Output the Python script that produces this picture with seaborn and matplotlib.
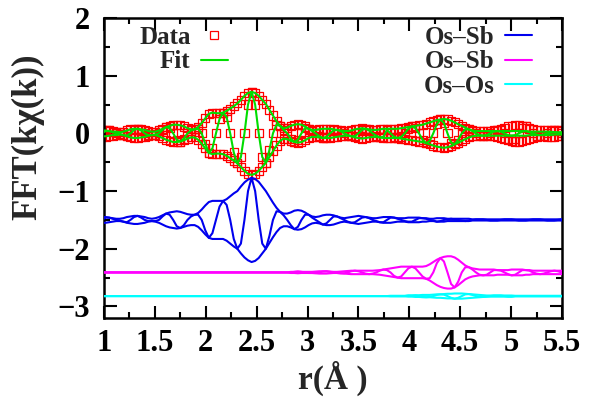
import numpy as np
import pandas as pd
import matplotlib
matplotlib.use("Agg")
import matplotlib.pyplot as plt
from matplotlib.lines import Line2D
from matplotlib.ticker import MultipleLocator, FuncFormatter
import seaborn as sns

# r grid (Angstrom), same sampling for every curve
r = [0.980, 1.015, 1.050, 1.085, 1.120, 1.155, 1.190, 1.225,
     1.260, 1.295, 1.330, 1.365, 1.400, 1.435, 1.470, 1.505,
     1.540, 1.575, 1.610, 1.645, 1.680, 1.715, 1.750, 1.785,
     1.820, 1.855, 1.890, 1.925, 1.960, 1.995, 2.030, 2.065,
     2.100, 2.135, 2.170, 2.205, 2.240, 2.275, 2.310, 2.345,
     2.380, 2.415, 2.450, 2.485, 2.520, 2.555, 2.590, 2.625,
     2.660, 2.695, 2.730, 2.765, 2.800, 2.835, 2.870, 2.905,
     2.940, 2.975, 3.010, 3.045, 3.080, 3.115, 3.150, 3.185,
     3.220, 3.255, 3.290, 3.325, 3.360, 3.395, 3.430, 3.465,
     3.500, 3.535, 3.570, 3.605, 3.640, 3.675, 3.710, 3.745,
     3.780, 3.815, 3.850, 3.885, 3.920, 3.955, 3.990, 4.025,
     4.060, 4.095, 4.130, 4.165, 4.200, 4.235, 4.270, 4.305,
     4.340, 4.375, 4.410, 4.445, 4.480, 4.515, 4.550, 4.585,
     4.620, 4.655, 4.690, 4.725, 4.760, 4.795, 4.830, 4.865,
     4.900, 4.935, 4.970, 5.005, 5.040, 5.075, 5.110, 5.145,
     5.180, 5.215, 5.250, 5.285, 5.320, 5.355, 5.390, 5.425,
     5.460, 5.495, 5.530]

# measured data: magnitude and real part
data_mag = [.06, .06, .05, .04, .03, .02, .03, .05,
            .07, .08, .08, .07, .06, .04, .03, .03,
            .05, .08, .11, .13, .15, .15, .14, .12,
            .09, .07, .07, .11, .18, .26, .34, .36,
            .35, .35, .36, .39, .43, .47, .52, .58,
            .65, .70, .72, .70, .65, .58, .51, .41,
            .31, .21, .13, .09, .10, .13, .15, .16,
            .15, .12, .08, .06, .06, .07, .08, .08,
            .08, .07, .06, .05, .04, .04, .05, .07,
            .08, .09, .08, .07, .06, .06, .07, .08,
            .08, .08, .08, .08, .09, .10, .11, .12,
            .13, .14, .15, .17, .19, .21, .23, .24,
            .25, .24, .22, .19, .16, .13, .10, .07,
            .05, .04, .04, .04, .04, .04, .05, .06,
            .08, .10, .12, .13, .14, .14, .13, .12,
            .10, .08, .06, .05, .05, .06, .06, .06,
            .05, .05, .05]
data_re = [0, .04, .05, .03, 0, -.01, -.03, -.04,
           0, .06, .08, .05, 0, -.03, -.03, -.02,
           0, .06, .11, .09, 0, -.11, -.14, -.09,
           0, .05, .07, .08, 0, -.18, -.34, -.26,
           0, .25, .36, .28, 0, -.33, -.52, -.41,
           0, .50, .72, .50, 0, -.41, -.51, -.29,
           0, .15, .13, .06, 0, -.09, -.15, -.11,
           0, .09, .08, .04, 0, -.05, -.08, -.06,
           0, .05, .06, .04, 0, -.03, -.05, -.05,
           0, .06, .08, .05, 0, -.04, -.07, -.06,
           .06, 0, -.06, -.08, -.06, 0, .08, .12,
           .09, 0, -.11, -.17, -.13, 0, .16, .24,
           .18, 0, -.16, -.19, -.11, 0, .07, .07,
           .04, 0, -.03, -.04, -.03, 0, .04, .06,
           .06, 0, -.09, -.13, -.10, 0, .09, .12,
           .07, 0, -.04, -.05, -.04, 0, .04, .06,
           .04, 0, -.04]

# fit
fit_mag = [.05, .05, .04, .03, .03, .02, .03, .05,
           .07, .08, .08, .07, .06, .04, .03, .03,
           .05, .08, .11, .13, .15, .15, .14, .12,
           .09, .07, .07, .11, .18, .26, .34, .36,
           .35, .35, .36, .39, .43, .47, .52, .58,
           .65, .70, .72, .70, .65, .58, .51, .41,
           .31, .21, .13, .09, .10, .13, .15, .16,
           .15, .12, .08, .06, .06, .07, .08, .08,
           .08, .07, .06, .05, .04, .04, .05, .07,
           .08, .09, .08, .07, .06, .06, .07, .08,
           .08, .08, .08, .08, .09, .10, .11, .12,
           .13, .14, .15, .17, .19, .21, .23, .24,
           .25, .24, .22, .19, .16, .13, .10, .07,
           .05, .04, .04, .04, .04, .04, .04, .04,
           .04, .04, .04, .04, .04, .04, .04, .04,
           .03, .03, .03, .03, .03, .03, .03, .02,
           .02, .02, .02]
fit_re = [0, .04, .04, .02, 0, -.01, -.03, -.04,
          0, .06, .08, .05, 0, -.03, -.03, -.02,
          0, .06, .11, .09, 0, -.11, -.14, -.09,
          0, .05, .07, .08, 0, -.18, -.34, -.26,
          0, .25, .36, .28, 0, -.33, -.52, -.41,
          0, .50, .72, .50, 0, -.41, -.51, -.29,
          0, .15, .13, .06, 0, -.09, -.15, -.11,
          0, .09, .08, .04, 0, -.05, -.08, -.06,
          0, .05, .06, .04, 0, -.03, -.05, -.05,
          0, .06, .08, .05, 0, -.04, -.07, -.06,
          .06, 0, -.06, -.08, -.06, 0, .08, .12,
          .09, 0, -.11, -.17, -.13, 0, .16, .24,
          .18, 0, -.16, -.19, -.11, 0, .07, .07,
          .04, 0, -.03, -.04, -.03, 0, .03, .04,
          .03, 0, -.03, -.04, -.03, 0, .03, .04,
          .02, 0, -.02, -.03, -.02, 0, .01, .02,
          .01, 0, -.01]

# first Os-Sb shell (blue)
sb1_shift = -1.5
sb1_mag = [.05, .05, .04, .03, .02, .02, .03, .05,
           .06, .07, .07, .06, .05, .03, .02, .03,
           .05, .08, .11, .13, .14, .15, .14, .12,
           .10, .09, .09, .12, .18, .25, .31, .33,
           .33, .33, .33, .36, .41, .46, .50, .58,
           .65, .70, .73, .71, .66, .58, .50, .40,
           .30, .21, .14, .11, .11, .13, .16, .17,
           .16, .13, .09, .06, .05, .06, .08, .09,
           .09, .08, .06, .04, .03, .04, .05, .06,
           .07, .06, .05, .04, .03, .03, .04, .05,
           .05, .05, .04, .03, .03, .03, .04, .04,
           .04, .04, .03, .03, .02, .02, .03, .03,
           .03, .02, .02, .02, .02, .02, .02, .02,
           .01, .01, .01, .01, .01, .01, .01, .01,
           .01, .01, .01, .01, .01, .01, .01, .01,
           .01, .01, .01, .01, .01, .01, .01, .01,
           .01, .01, .01]
sb1_re = [0, .04, .04, .02, 0, -.01, -.03, -.04,
          0, .05, .07, .04, 0, -.02, -.02, -.02,
          0, .06, .11, .09, 0, -.11, -.14, -.09,
          0, .06, .09, .09, 0, -.18, -.31, -.23,
          0, .23, .33, .26, 0, -.33, -.50, -.41,
          0, .50, .73, .50, 0, -.41, -.50, -.28,
          0, .15, .14, .08, 0, -.09, -.16, -.12,
          0, .09, .09, .04, 0, -.04, -.08, -.06,
          0, .06, .06, .03, 0, -.03, -.05, -.04,
          0, .04, .05, .03, 0, -.02, -.04, -.04,
          0, .04, .04, .02, 0, -.02, -.03, -.03,
          0, .03, .03, .02, 0, -.01, -.03, -.02,
          0, .01, .02, .01, 0, -.01, -.02, -.01,
          0, .01, .01, .01, 0, -.01, -.01, -.01,
          0, .01, .01, .01, 0, -.01, -.01, -.01,
          0, .01, .01, .01, 0, -.01, -.01, -.01,
          0, .01, .01]

# second Os-Sb shell (magenta)
sb2_shift = -2.41
sb2_mag = [0.0] * 53 + [.01, .01, .015,
           .01, .01, .01, .01, .015, .02, .02, .02,
           .015, .01, .01, .015, .02, .025, .03, .03,
           .03, .03, .03, .03, .03, .035, .04, .05,
           .06, .07, .08, .09, .10, .10, .10, .10,
           .10, .10, .10, .11, .14, .18, .22, .25,
           .27, .28, .28, .26, .22, .17, .12, .09,
           .07, .06, .05, .05, .05, .05, .05, .04,
           .04, .04, .04, .05, .05, .05, .05, .04,
           .04, .03, .03, .03, .03, .03, .03, .03,
           .03, .03, .03]
sb2_re = [0.0] * 54 + [.01, .015,
          .01, 0, -.01, -.01, -.01, 0, .015, .02,
          .01, 0, -.01, -.015, -.015, 0, .02, .03,
          .02, 0, -.02, -.03, -.02, 0, .03, .05,
          .04, 0, -.06, -.09, -.07, 0, .07, .10,
          .07, 0, -.07, -.11, -.10, 0, .16, .25,
          .19, 0, -.20, -.26, -.16, 0, .09, .09,
          .05, 0, -.04, -.05, -.04, 0, .04, .04,
          .03, 0, -.03, -.05, -.04, 0, .04, .04,
          .03, 0, -.02, -.03, -.02, 0, .02, .03,
          .02, 0, -.02]

# Os-Os shell (cyan)
os_shift = -2.82
os_mag = [0.0] * 81 + [.005, .005, .005, .005, .005, .01, .01,
          .015, .015, .02, .02, .02, .025, .03, .03,
          .035, .04, .04, .045, .045, .045, .04, .035,
          .03, .025, .02, .015, .01, .01, .01, .01,
          .01, .01, .01, .01, .005, .005, .005, .005,
          .005, .005, .005, .005, .005, .005, .005, .005,
          .005, .005, .005]
os_re = [0.0] * 86 + [.01, .01,
         .01, 0, -.015, -.02, -.015, 0, .02, .03,
         .025, 0, -.03, -.045, -.03, 0, .03, .035,
         .02, 0, -.015, -.015, -.01, 0, .01, .01,
         .01, 0, -.01, -.01] + [0.0] * 15

sns.set_style("ticks")
plt.rcParams["font.family"] = ["Liberation Serif", "DejaVu Serif"]
plt.rcParams["font.weight"] = "bold"

RED = "#ff0000"
GREEN = "#00dd00"
BLUE = "#0000ee"
MAGENTA = "#ff00ff"
CYAN = "#00ffff"

fig = plt.figure(figsize=(5.98, 4.03), dpi=100)
ax = fig.add_axes([104 / 598, 85 / 403, 458 / 598, 300 / 403])

rr = np.array(r)


def shell(mag, re, shift, color, z):
    mag = np.array(mag)
    re = np.array(re)
    df = pd.DataFrame({"r": rr, "up": shift + mag, "lo": shift - mag, "re": shift + re})
    for col in ["up", "lo", "re"]:
        sns.lineplot(data=df, x="r", y=col, color=color, lw=1.5, ax=ax,
                     estimator=None, zorder=z)


shell(os_mag, os_re, os_shift, CYAN, 3)
shell(sb2_mag, sb2_re, sb2_shift, MAGENTA, 3)
shell(sb1_mag, sb1_re, sb1_shift, BLUE, 3)

dm = np.array(data_mag)
pts = pd.DataFrame({"r": np.concatenate([rr, rr, rr]),
                    "y": np.concatenate([dm, -dm, np.array(data_re)])})
sns.scatterplot(data=pts, x="r", y="y", marker="s", s=34, facecolor="none",
                edgecolor=RED, linewidth=0.9, ax=ax, zorder=2, clip_on=True)
shell(fit_mag, fit_re, 0.0, GREEN, 4)

ax.set_xlim(1, 5.5)
ax.set_ylim(-3.2, 2)
ax.xaxis.set_major_locator(MultipleLocator(0.5))
ax.xaxis.set_minor_locator(MultipleLocator(0.25))
ax.yaxis.set_major_locator(MultipleLocator(1))
ax.yaxis.set_minor_locator(MultipleLocator(0.5))
ax.xaxis.set_major_formatter(FuncFormatter(lambda v, p: f"{v:g}"))
ax.yaxis.set_major_formatter(FuncFormatter(lambda v, p: f"{v:g}".replace("-", "\u2212")))
ax.tick_params(which="both", direction="in", top=True, right=True, width=1.5,
               labelsize=22, colors="black")
ax.tick_params(which="major", length=9)
ax.tick_params(which="minor", length=4.5)
ax.tick_params(axis="y", pad=10)
ax.tick_params(axis="x", pad=8)
for s in ax.spines.values():
    s.set_linewidth(1.8)
    s.set_color("black")

ax.set_xlabel("r(Å )", fontsize=24, fontweight="bold", labelpad=2)
ax.set_ylabel("FFT(kχ(k))", fontsize=25, fontweight="bold")
ax.yaxis.set_label_coords(-0.13, 0.605)

lab = dict(family="Liberation Serif", weight="bold", size=18)
h1 = [Line2D([], [], marker="s", ls="none", mfc="none", mec=RED, ms=5.5, mew=0.9),
      Line2D([], [], color=GREEN, lw=1.5)]
leg1 = ax.legend(h1, ["Data", "Fit"], loc="upper right", bbox_to_anchor=(228 / 598, 0.935),
                 bbox_transform=fig.transFigure, markerfirst=False, frameon=False,
                 prop=lab, handlelength=1.1, handletextpad=0.4, labelspacing=0.05,
                 borderpad=0, borderaxespad=0)
ax.add_artist(leg1)
h2 = [Line2D([], [], color=BLUE, lw=1.5), Line2D([], [], color=MAGENTA, lw=1.5),
      Line2D([], [], color=CYAN, lw=1.5)]
ax.legend(h2, ["Os\u2013Sb", "Os\u2013Sb", "Os\u2013Os"], loc="upper right",
          bbox_to_anchor=(532 / 598, 0.935), bbox_transform=fig.transFigure,
          markerfirst=False, frameon=False, prop=lab, handlelength=1.1,
          handletextpad=0.4, labelspacing=0.05, borderpad=0, borderaxespad=0)

fig.savefig("out.png", dpi=100)
